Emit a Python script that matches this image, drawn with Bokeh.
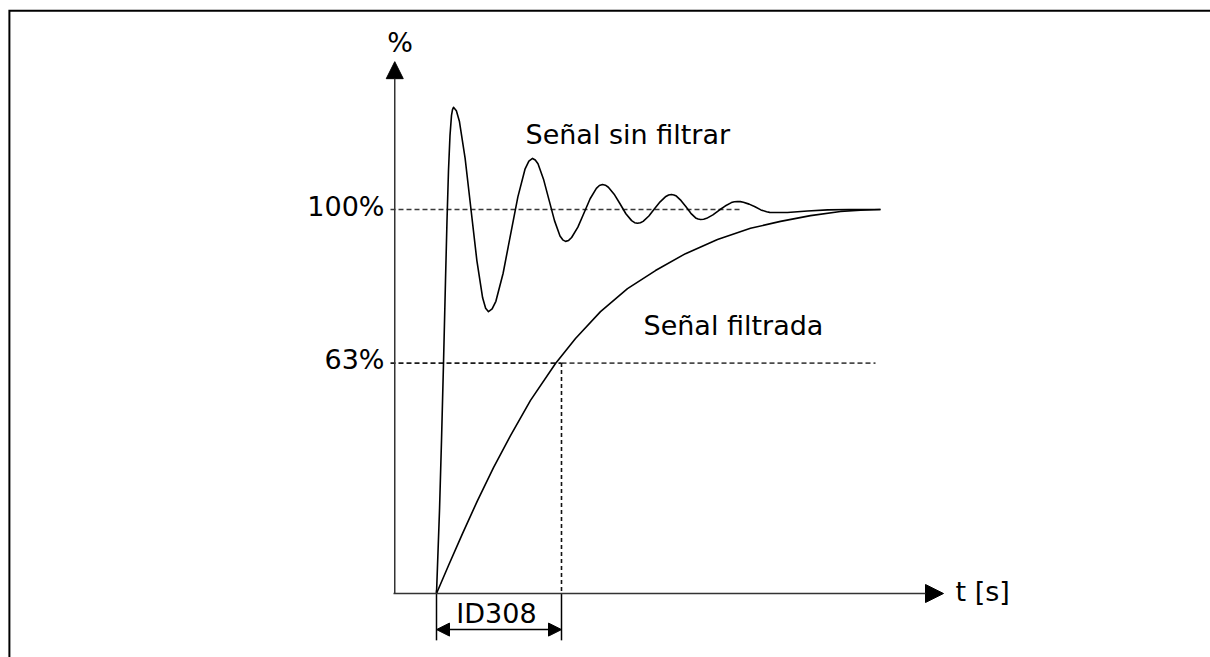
from bokeh.plotting import figure
from bokeh.models import Range1d, Arrow, NormalHead
from bokeh.core.properties import value
from bokeh.embed import file_html
from bokeh.resources import INLINE

# ---- data (time in units of the filter time constant ID308, signal in %) ----
t_unfiltered = [0.000, 0.024, 0.040, 0.056, 0.072, 0.084, 0.096, 0.108, 0.120, 0.128,
                0.136, 0.159, 0.183, 0.229, 0.276, 0.323, 0.369, 0.393,
                0.416, 0.445, 0.475, 0.533, 0.592, 0.651, 0.709, 0.739,
                0.768, 0.790, 0.812, 0.856, 0.900, 0.944, 0.988, 1.010,
                1.032, 1.057, 1.081, 1.131, 1.180, 1.229, 1.279, 1.303,
                1.328, 1.351, 1.375, 1.421, 1.468, 1.515, 1.561, 1.585,
                1.608, 1.631, 1.653, 1.699, 1.744, 1.789, 1.835, 1.857,
                1.880, 1.899, 1.919, 1.957, 1.996, 2.035, 2.073, 2.093,
                2.112, 2.137, 2.161, 2.211, 2.260, 2.309, 2.359, 2.383,
                2.408, 2.431, 2.455, 2.501, 2.548, 2.595, 2.641, 2.665,
                2.688, 2.808, 2.968, 3.128, 3.300, 3.552]
pct_unfiltered = [0.0, 21.6, 39.8, 59.9, 81.5, 97.1, 110.2, 119.3, 124.5, 126.0,
                  126.6, 125.7, 123.0, 113.3, 100.0, 86.7, 77.0, 74.3,
                  73.4, 74.1, 76.1, 83.4, 93.4, 103.3, 110.6, 112.6,
                  113.3, 112.9, 111.9, 107.9, 102.5, 97.1, 93.1, 92.1,
                  91.7, 91.95, 92.7, 95.4, 99.1, 102.8, 105.5, 106.25,
                  106.5, 106.33, 105.8, 104.0, 101.5, 98.9, 97.1, 96.57,
                  96.4, 96.53, 96.9, 98.3, 100.2, 102.0, 103.4, 103.77,
                  103.9, 103.79, 103.5, 102.3, 100.7, 99.0, 97.8, 97.51,
                  97.4, 97.48, 97.7, 98.6, 99.8, 100.9, 101.8, 102.02,
                  102.1, 102.05, 101.9, 101.4, 100.7, 99.9, 99.4, 99.25,
                  99.2, 99.2, 99.6, 99.9, 100.0, 100.0]

t_filtered = [0.000, 0.096, 0.208, 0.328, 0.456, 0.592, 0.752, 0.952, 1.112, 1.312,
              1.528, 1.752, 1.992, 2.248, 2.512, 2.752, 2.992, 3.232, 3.392, 3.552]
pct_filtered = [0.0, 7.3, 15.6, 24.2, 32.8, 41.1, 50.3, 59.9, 66.4, 73.4,
                79.4, 84.1, 88.5, 92.2, 95.1, 96.9, 98.4, 99.5, 99.8, 100.0]

ref_levels = [100, 60]
ref_labels = ["100%", "63%"]
time_constant = 1.0
time_constant_label = "ID308"
series_labels = ["Señal sin filtrar", "Señal filtrada"]
axis_labels = ["%", "t [s]"]

# ---- figure ----
W, H = 1210, 657
PX_T, PX_V = 125.0, 3.84          # pixels per time unit / per percent
X0 = -436 / PX_T
X1 = X0 + W / PX_T
Y1 = 593 / PX_V
Y0 = Y1 - H / PX_V
FONT = value("DejaVu Sans")
FS = "27px"
TXT_DY = 10 / PX_V

p = figure(width=W, height=H, output_backend="svg", toolbar_location=None,
           x_range=Range1d(X0, X1), y_range=Range1d(Y0, Y1),
           x_axis_type=None, y_axis_type=None, min_border=0,
           outline_line_color=None, background_fill_color="white",
           border_fill_color="white")
p.xgrid.visible = False
p.ygrid.visible = False

# frame (left and top edges, meeting at the top-left corner)
fx = X0 + 8.9 / PX_T
fy = Y1 - 10.2 / PX_V
p.line([fx, fx, X1 + 1], [Y0 - 1, fy, fy], line_color="black", line_width=2,
       line_join="miter")

AX = "#333333"
# axes with arrows
p.add_layout(Arrow(x_start=-0.334, y_start=0, x_end=-0.334, y_end=138.5,
                   line_color=AX, line_width=1.5,
                   end=NormalHead(size=17, fill_color="black", line_color="black")))
p.add_layout(Arrow(x_start=-0.344, y_start=0, x_end=4.056, y_end=0,
                   line_color=AX, line_width=1.5,
                   end=NormalHead(size=18, fill_color="black", line_color="black")))

# reference dashed lines
DASH = "5 3"
p.line([-0.368, 2.432], [ref_levels[0], ref_levels[0]], line_color="#3a3a3a",
       line_width=1.7, line_dash=DASH)
p.line([-0.368, time_constant], [ref_levels[1], ref_levels[1]], line_color="#1a1a1a",
       line_width=1.7, line_dash=DASH)
p.line([time_constant, 3.512], [ref_levels[1], ref_levels[1]], line_color="#4a4a4a",
       line_width=1.7, line_dash=DASH)
p.line([time_constant, time_constant], [ref_levels[1], 0], line_color="#111111",
       line_width=1.6, line_dash="4 3")

# curves
p.line(t_unfiltered, pct_unfiltered, line_color="black", line_width=1.6,
       line_join="round")
p.line(t_filtered, pct_filtered, line_color="black", line_width=1.6,
       line_join="round")

# ID308 dimension
p.segment(x0=[0, time_constant], y0=[0.8, 0], x1=[0, time_constant], y1=[-12.2, -12.2],
          line_color="black", line_width=1.5)
p.add_layout(Arrow(x_start=0, y_start=-9.4, x_end=time_constant, y_end=-9.4,
                   line_color="black", line_width=1.5,
                   start=NormalHead(size=13, fill_color="black", line_color="black"),
                   end=NormalHead(size=13, fill_color="black", line_color="black")))
p.text(x=[time_constant / 2 - 0.02], y=[-7.8 + TXT_DY], text=[time_constant_label],
       text_font=FONT, text_font_size=FS, text_align="center",
       text_baseline="alphabetic", text_color="black")

# labels
p.text(x=[-0.416, -0.416], y=[98.2 + TXT_DY, 58.3 + TXT_DY], text=ref_labels,
       text_font=FONT, text_font_size=FS, text_align="right",
       text_baseline="alphabetic", text_color="black")
p.text(x=[0.712, 1.656], y=[116.9 + TXT_DY, 67.2 + TXT_DY], text=series_labels,
       text_font=FONT, text_font_size=FS, text_align="left",
       text_baseline="alphabetic", text_color="black")
p.text(x=[-0.292], y=[141.0 + TXT_DY], text=[axis_labels[0]], text_font=FONT,
       text_font_size=FS, text_align="center", text_baseline="alphabetic",
       text_color="black")
p.text(x=[4.152], y=[-2.1 + TXT_DY], text=[axis_labels[1]], text_font=FONT,
       text_font_size=FS, text_align="left", text_baseline="alphabetic",
       text_color="black")

open("out.html", "w").write(file_html(p, INLINE))
